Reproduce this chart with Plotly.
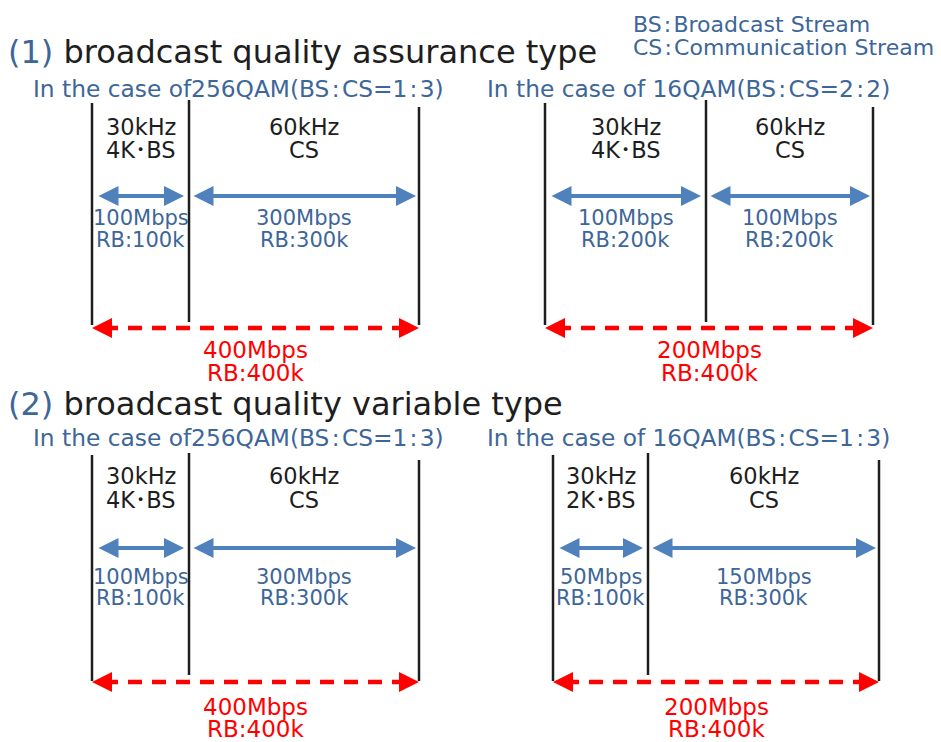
import plotly.graph_objects as go

# ---------------- data ----------------
HS = "\u200a"  # hair space around colons (visual spacing of the original font)
section_numbers = ["(1)", "(2)"]
section_titles = ["broadcast quality assurance type", "broadcast quality variable type"]
legend_lines = [f"BS{HS}:{HS}Broadcast Stream", f"CS{HS}:{HS}Communication Stream"]
case_labels = [
    f"In the case of256QAM(BS{HS}:{HS}CS=1{HS}:{HS}3)",
    f"In the case of 16QAM(BS{HS}:{HS}CS=2{HS}:{HS}2)",
    f"In the case of256QAM(BS{HS}:{HS}CS=1{HS}:{HS}3)",
    f"In the case of 16QAM(BS{HS}:{HS}CS=1{HS}:{HS}3)",
]
bs_spacing = ["30kHz", "30kHz", "30kHz", "30kHz"]
cs_spacing = ["60kHz", "60kHz", "60kHz", "60kHz"]
bs_labels = ["4K･BS", "4K･BS", "4K･BS", "2K･BS"]
cs_labels = ["CS", "CS", "CS", "CS"]
bs_rates = ["100Mbps", "100Mbps", "100Mbps", "50Mbps"]
bs_rb = ["RB:100k", "RB:200k", "RB:100k", "RB:100k"]
cs_rates = ["300Mbps", "100Mbps", "300Mbps", "150Mbps"]
cs_rb = ["RB:300k", "RB:200k", "RB:300k", "RB:300k"]
total_rates = ["400Mbps", "200Mbps", "400Mbps", "200Mbps"]
total_rb = ["RB:400k", "RB:400k", "RB:400k", "RB:400k"]

# ---------------- layout geometry ----------------
W, H = 941, 742
OFF = 8  # page body margin
panel_row = [0, 0, 1, 1]
panel_lines_x = [(92, 189, 419), (545, 706, 873), (92, 189, 419), (553, 648, 879)]
case_x = [31, 485, 31, 485]
rows = [
    dict(title=52, case=88, tops=(103, 100, 107), bottoms=(325, 322, 325), lab1=127, lab2=150,
         arrow=196, rate=218, rb=240, red=328, tot=350, totrb=373),
    dict(title=404, case=437, tops=(455, 453, 460), bottoms=(681, 675, 681), lab1=476, lab2=500,
         arrow=548, rate=577, rb=598, red=682, tot=707, totrb=729),
]

FONT = "DejaVu Sans, Noto Sans CJK JP"
BLACK = "#1e1e1e"
TXT_BLUE = "#3d6699"
ARR_BLUE = "#4f81bd"
RED = "#ff0000"

fig = go.Figure()
annotations = []


def text(x, y, s, color, size, anchor="center", xshift=0):
    annotations.append(dict(x=x, y=y, xref="x", yref="y", text=s, showarrow=False,
                            xanchor=anchor, yanchor="middle", xshift=xshift,
                            font=dict(family=FONT, size=size, color=color)))


# titles
for r, (num, ttl) in enumerate(zip(section_numbers, section_titles)):
    text(OFF, rows[r]["title"], f"<span style='color:{TXT_BLUE}'>{num}</span> {ttl}", BLACK, 32,
         "left", xshift=-2)

# legend
text(631, 24, legend_lines[0], TXT_BLUE, 22, "left")
text(631, 47, legend_lines[1], TXT_BLUE, 22, "left")

for i in range(4):
    R = rows[panel_row[i]]
    x0, x1, x2 = panel_lines_x[i]
    text(case_x[i], R["case"], case_labels[i], TXT_BLUE, 23.3, "left")
    # vertical boundaries
    for xv, t, b in zip((x0, x1, x2), R["tops"], R["bottoms"]):
        fig.add_trace(go.Scatter(x=[xv, xv], y=[t, b], mode="lines",
                                 line=dict(color=BLACK, width=2.5), hoverinfo="skip", showlegend=False))
    cl = (x0 + x1) / 2
    cr = (x1 + x2) / 2
    ct = (x0 + x2) / 2
    text(cl, R["lab1"], bs_spacing[i], BLACK, 22.5)
    text(cl, R["lab2"], bs_labels[i], BLACK, 22.5)
    text(cr, R["lab1"], cs_spacing[i], BLACK, 22.5)
    text(cr, R["lab2"], cs_labels[i], BLACK, 22.5)
    text(cl, R["rate"], bs_rates[i], TXT_BLUE, 21)
    text(cl, R["rb"], bs_rb[i], TXT_BLUE, 21)
    text(cr, R["rate"], cs_rates[i], TXT_BLUE, 21)
    text(cr, R["rb"], cs_rb[i], TXT_BLUE, 21)
    text(ct, R["tot"], total_rates[i], RED, 23)
    text(ct, R["totrb"], total_rb[i], RED, 23)
    # blue double arrows
    for a, b in ((x0 + 5, x1 - 5), (x1 + 3, x2 - 3)):
        annotations.append(dict(x=b, y=R["arrow"], ax=a, ay=R["arrow"], xref="x", yref="y",
                                axref="x", ayref="y", text="", showarrow=True,
                                arrowhead=2, startarrowhead=2, arrowside="end+start",
                                arrowsize=1.0, startarrowsize=1.0, arrowwidth=4, arrowcolor=ARR_BLUE))
    # red dashed double arrow
    yr = R["red"]
    fig.add_trace(go.Scatter(x=[x0 + 12, x2 - 12], y=[yr, yr], mode="lines",
                             line=dict(color=RED, width=4.5, dash="14px,10px"),
                             hoverinfo="skip", showlegend=False))
    annotations.append(dict(x=x0, y=yr, ax=x0 + 16, ay=yr, xref="x", yref="y", axref="x", ayref="y",
                            text="", showarrow=True, arrowhead=2, arrowsize=1.0, arrowwidth=4, arrowcolor=RED))
    annotations.append(dict(x=x2, y=yr, ax=x2 - 16, ay=yr, xref="x", yref="y", axref="x", ayref="y",
                            text="", showarrow=True, arrowhead=2, arrowsize=1.0, arrowwidth=4, arrowcolor=RED))

fig.update_layout(
    width=W - OFF, height=H - OFF, margin=dict(l=0, r=0, t=0, b=0),
    paper_bgcolor="white", plot_bgcolor="white",
    xaxis=dict(range=[OFF, W], visible=False, fixedrange=True),
    yaxis=dict(range=[H, OFF], visible=False, fixedrange=True),
    annotations=annotations, showlegend=False,
)
fig.write_html("out.html", config=dict(displayModeBar=False))
